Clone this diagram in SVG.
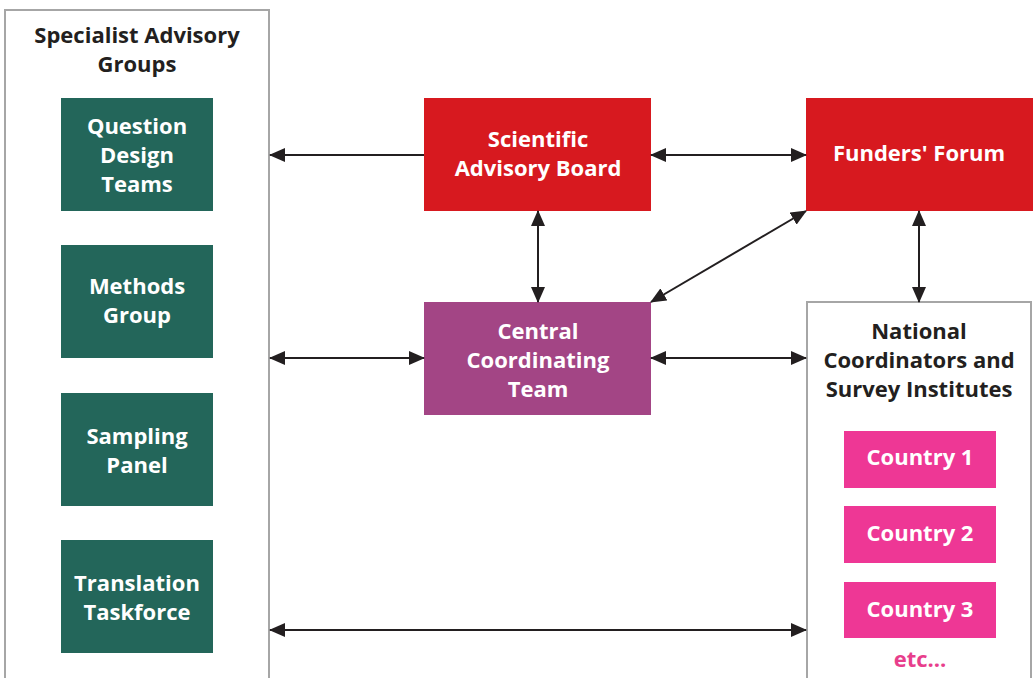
<svg xmlns="http://www.w3.org/2000/svg" width="1033" height="678" viewBox="0 0 1033 678">
<style>
.cont{fill:#ffffff;stroke:#a6a6a6;stroke-width:2}
.green{fill:#23665a}
.red{fill:#d7191f}
.purple{fill:#a34585}
.pink{fill:#ee3795}
text{font-family:"Open Sans","Liberation Sans",sans-serif;font-weight:bold;font-size:22px;text-anchor:middle}
.w{fill:#ffffff}
.d{fill:#231f20}
.p{fill:#e83e8c}
.conn{stroke:#231f20;stroke-width:2;fill:none}
</style>
<defs>
<marker id="ah" viewBox="0 0 16 14" refX="15" refY="7" markerWidth="16" markerHeight="14" markerUnits="userSpaceOnUse" orient="auto-start-reverse">
<path d="M0,0 L16,7 L0,14 Z" fill="#231f20"/>
</marker>
</defs>
<g id="specialist-advisory-groups">
<path class="cont" d="M5,679 V10 H269 V679"/>
<text class="d" x="137" y="43">Specialist Advisory</text>
<text class="d" x="137" y="72">Groups</text>
</g>
<g id="question-design-teams">
<rect class="green" x="61" y="98" width="152" height="113"/>
<text class="w" x="137" y="134">Question</text>
<text class="w" x="137" y="163">Design</text>
<text class="w" x="137" y="192">Teams</text>
</g>
<g id="methods-group">
<rect class="green" x="61" y="245" width="152" height="113"/>
<text class="w" x="137" y="294">Methods</text>
<text class="w" x="137" y="323">Group</text>
</g>
<g id="sampling-panel">
<rect class="green" x="61" y="393" width="152" height="113"/>
<text class="w" x="137" y="444">Sampling</text>
<text class="w" x="137" y="473">Panel</text>
</g>
<g id="translation-taskforce">
<rect class="green" x="61" y="540" width="152" height="113"/>
<text class="w" x="137" y="591">Translation</text>
<text class="w" x="137" y="620">Taskforce</text>
</g>
<g id="scientific-advisory-board">
<rect class="red" x="424" y="98" width="227" height="113"/>
<text class="w" x="538" y="147">Scientific</text>
<text class="w" x="538" y="176">Advisory Board</text>
</g>
<g id="funders-forum">
<rect class="red" x="806" y="98" width="227" height="113"/>
<text class="w" x="919" y="161">Funders' Forum</text>
</g>
<g id="central-coordinating-team">
<rect class="purple" x="424" y="302" width="227" height="113"/>
<text class="w" x="538" y="339">Central</text>
<text class="w" x="538" y="368">Coordinating</text>
<text class="w" x="538" y="397">Team</text>
</g>
<g id="national-coordinators">
<path class="cont" d="M807,679 V302 H1031 V679"/>
<text class="d" x="919" y="339">National</text>
<text class="d" x="919" y="368">Coordinators and</text>
<text class="d" x="919" y="397">Survey Institutes</text>
</g>
<g id="country-1">
<rect class="pink" x="844" y="431" width="152" height="57"/>
<text class="w" x="920" y="465">Country 1</text>
</g>
<g id="country-2">
<rect class="pink" x="844" y="506" width="152" height="57"/>
<text class="w" x="920" y="541">Country 2</text>
</g>
<g id="country-3">
<rect class="pink" x="844" y="582" width="152" height="56"/>
<text class="w" x="920" y="617">Country 3</text>
</g>
<g id="etc">
<text class="p" x="920" y="667">etc...</text>
</g>
<g id="connectors">
<line class="conn" x1="424" y1="155" x2="270" y2="155" marker-end="url(#ah)"/>
<line class="conn" x1="651" y1="155" x2="806" y2="155" marker-start="url(#ah)" marker-end="url(#ah)"/>
<line class="conn" x1="538" y1="211" x2="538" y2="302" marker-start="url(#ah)" marker-end="url(#ah)"/>
<line class="conn" x1="919" y1="211" x2="919" y2="302" marker-start="url(#ah)" marker-end="url(#ah)"/>
<line class="conn" x1="651" y1="302" x2="806" y2="211" marker-start="url(#ah)" marker-end="url(#ah)"/>
<line class="conn" x1="270" y1="358" x2="424" y2="358" marker-start="url(#ah)" marker-end="url(#ah)"/>
<line class="conn" x1="651" y1="358" x2="806" y2="358" marker-start="url(#ah)" marker-end="url(#ah)"/>
<line class="conn" x1="270" y1="630" x2="806" y2="630" marker-start="url(#ah)" marker-end="url(#ah)"/>
</g>
</svg>
